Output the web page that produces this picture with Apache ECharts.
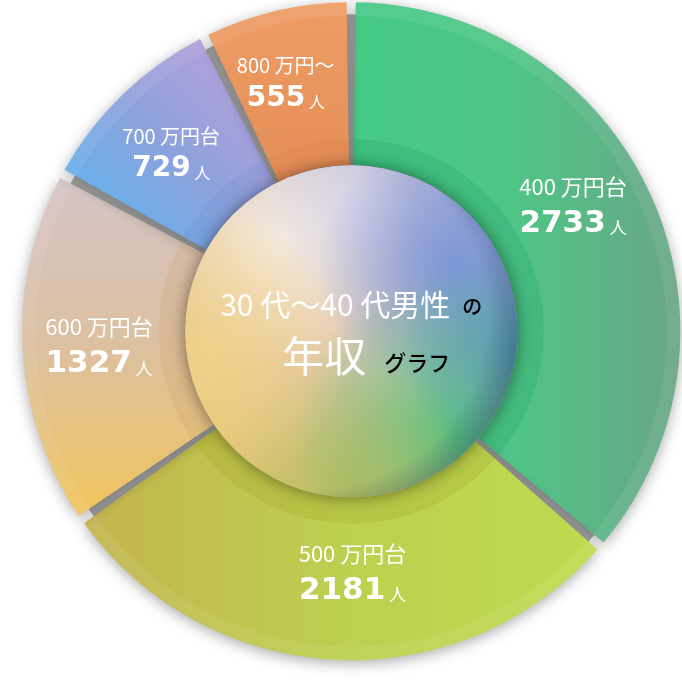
<!DOCTYPE html>
<html><head><meta charset="utf-8">
<script src="https://cdn.jsdelivr.net/npm/echarts@6/dist/echarts.min.js"></script>
<style>html,body{margin:0;padding:0;background:#fff}#c{width:682px;height:683px}</style>
</head><body><div id="c"></div>
<script>
// ---- data ----
const categories = ['400 万円台', '500 万円台', '600 万円台', '700 万円台', '800 万円～'];
const values = [2733, 2181, 1327, 729, 555];
const unit = '人';
const centerLine1 = '30 代～40 代男性';
const centerLine1b = 'の';
const centerLine2 = '年収';
const centerLine2b = 'グラフ';

// ---- styles ----
const CENTER = ['51.5%', '48.5%'];
const R_IN = '48.7%', R_OUT = '96.5%';
const PAD = 1.6;
const JP = '"Noto Sans CJK JP", "Noto Sans", sans-serif';
const NUM = '"DejaVu Sans", "Liberation Sans", sans-serif';
function lg(x, y, x2, y2, stops) {
  return { type: 'linear', x, y, x2, y2,
    colorStops: stops.map((c, i) => ({ offset: i / (stops.length - 1), color: c })) };
}
function rg(x, y, r, stops) {
  return { type: 'radial', x, y, r, colorStops: stops.map(s => ({ offset: s[0], color: s[1] })) };
}
const fills = [
  lg(0, 0, 1, 0, ['#45cb87', '#4fc486', '#6aa685']),
  lg(0, 0, 1, 0, ['#c4b44e', '#bdcf4f', '#bedc50']),
  lg(0, 0, 0, 1, ['#d6c4c7', '#dcc0a0', '#f0c45c']),
  lg(0, 0.8, 0.8, 0, ['#5db3ef', '#8ea2dc', '#b9a0db']),
  lg(0, 0, 0, 1, ['#ee9c64', '#e48e58'])
];
const bands = ['rgba(20,150,90,0.2)', 'rgba(165,165,35,0.25)', 'rgba(205,165,110,0.25)',
               'rgba(90,120,200,0.12)', 'rgba(215,120,60,0.15)'];
const labelOffsets = [[-6, -20], [14, -8], [-2, 2], [-6, 3], [-8, -4]];
const bigLabel = [true, true, true, false, false];

const base = { type: 'pie', center: CENTER, silent: true, padAngle: PAD,
  emphasis: { disabled: true }, labelLine: { show: false } };

const segData = values.map((v, i) => ({ value: v, name: categories[i] }));

const series = [];
// gray gaps
series.push({ type: 'pie', center: CENTER, silent: true, emphasis: { disabled: true },
  radius: [R_IN, '93%'], label: { show: false }, labelLine: { show: false },
  data: [{ value: 1, itemStyle: { color: '#acacac' } }] });
// main segments
series.push(Object.assign({}, base, {
  radius: [R_IN, R_OUT], label: { show: false },
  itemStyle: { shadowBlur: 14, shadowColor: 'rgba(0,0,0,0.33)', shadowOffsetY: 3 },
  data: segData.map((d, i) => Object.assign({}, d, { itemStyle: { color: fills[i] } }))
}));
// inner darker band
series.push(Object.assign({}, base, {
  radius: [R_IN, '56.4%'], label: { show: false },
  data: segData.map((d, i) => Object.assign({}, d, { itemStyle: { color: bands[i] } }))
}));
// outer light rim
series.push(Object.assign({}, base, {
  radius: ['92.5%', R_OUT], label: { show: false },
  data: segData.map(d => Object.assign({}, d, { itemStyle: { color: 'rgba(255,255,255,0.07)' } }))
}));
// center glass disk layers
const discLayers = [
  lg(0, 1, 1, 0, ['#e4c45a', '#e0c6b6', '#8a9cd8']),
  rg(0.3, 0.22, 0.4, [[0, 'rgba(253,243,222,0.9)'], [1, 'rgba(253,243,222,0)']]),
  rg(0.5, 0.12, 0.35, [[0, 'rgba(218,216,242,0.75)'], [1, 'rgba(218,216,242,0)']]),
  rg(0.8, 0.3, 0.4, [[0, 'rgba(120,148,218,0.9)'], [1, 'rgba(120,148,218,0)']]),
  rg(0.82, 0.82, 0.5, [[0, 'rgba(70,192,125,0.95)'], [1, 'rgba(70,192,125,0)']]),
  rg(0.5, 1.0, 0.42, [[0, 'rgba(165,185,85,0.75)'], [1, 'rgba(165,185,85,0)']]),
  rg(0.08, 0.55, 0.42, [[0, 'rgba(245,214,140,0.75)'], [1, 'rgba(245,214,140,0)']]),
  rg(1.0, 0.55, 0.35, [[0, 'rgba(70,150,180,0.75)'], [1, 'rgba(70,150,180,0)']]),
  rg(0.38, 0.45, 0.66, [[0, 'rgba(20,30,70,0)'], [0.8, 'rgba(20,30,70,0)'], [1, 'rgba(20,30,70,0.4)']])
];
discLayers.forEach((col, k) => {
  const s = { type: 'pie', center: CENTER, silent: true, emphasis: { disabled: true },
    radius: [0, R_IN], labelLine: { show: false }, label: { show: false },
    data: [{ value: 1, itemStyle: k === 0 ? { color: col, shadowBlur: 16, shadowColor: 'rgba(0,0,0,0.45)' } : { color: col } }] };
  if (k === discLayers.length - 1) {
    s.label = { show: true, position: 'center',
      formatter: '{a|' + centerLine1 + '}{b|' + centerLine1b + '}\n{c|' + centerLine2 + '}{d|' + centerLine2b + '}',
      rich: {
        a: { fontSize: 30, color: '#fff', fontFamily: JP, lineHeight: 50 },
        b: { fontSize: 20, color: '#000', fontFamily: JP, fontWeight: 500, lineHeight: 50, padding: [4, 0, 0, 12] },
        c: { fontSize: 42, color: '#fff', fontFamily: JP, lineHeight: 54, padding: [0, 0, 0, 30] },
        d: { fontSize: 22, color: '#000', fontFamily: JP, fontWeight: 500, lineHeight: 54, padding: [12, 0, 0, 18] }
      } };
  }
  series.push(s);
});
// label carrier
series.push(Object.assign({}, base, {
  radius: [R_IN, R_OUT],
  itemStyle: { color: 'rgba(0,0,0,0)' },
  label: { show: true, position: 'inside',
    formatter: p => bigLabel[p.dataIndex]
      ? '{t|' + p.name + '}\n{v|' + p.value + '}{u| ' + unit + '}'
      : '{t2|' + p.name + '}\n{v2|' + p.value + '}{u2| ' + unit + '}',
    rich: {
      t: { fontSize: 22, color: '#fff', fontFamily: JP, lineHeight: 34 },
      v: { fontSize: 31, color: '#fff', fontFamily: NUM, fontWeight: 'bold', lineHeight: 40 },
      u: { fontSize: 17, color: '#fff', fontFamily: JP, lineHeight: 40, padding: [8, 0, 0, 0] },
      t2: { fontSize: 20, color: '#fff', fontFamily: JP, lineHeight: 30 },
      v2: { fontSize: 28, color: '#fff', fontFamily: NUM, fontWeight: 'bold', lineHeight: 36 },
      u2: { fontSize: 16, color: '#fff', fontFamily: JP, lineHeight: 36, padding: [8, 0, 0, 0] }
    } },
  data: segData.map((d, i) => Object.assign({}, d, { label: { offset: labelOffsets[i] } }))
}));

const chart = echarts.init(document.getElementById('c'));
chart.setOption({ backgroundColor: '#fff', animation: false, series });
</script></body></html>
